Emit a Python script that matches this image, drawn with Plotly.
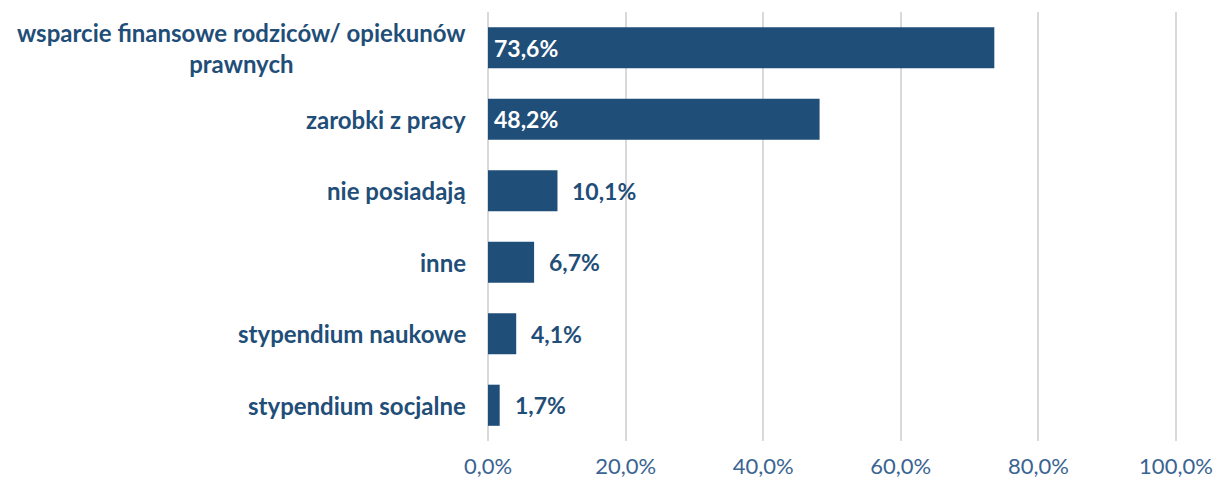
import plotly.graph_objects as go

categories = [
    "wsparcie finansowe rodziców/ opiekunów<br>prawnych",
    "zarobki z pracy",
    "nie posiadają",
    "inne",
    "stypendium naukowe",
    "stypendium socjalne",
]
values = [73.6, 48.2, 10.1, 6.7, 4.1, 1.7]
tick_vals = [0, 20, 40, 60, 80, 100]
tick_text = [f"{t:.1f}%".replace(".", ",") for t in tick_vals]

BAR = "#1F4E79"
TICK = "#3A6491"
FONT = "Lato"

fig = go.Figure()
fig.add_trace(go.Bar(
    x=values, y=categories, orientation="h",
    marker=dict(color=BAR, line=dict(width=0)),
    hoverinfo="skip",
))

annotations = []
for c, v in zip(categories, values):
    annotations.append(dict(
        x=0, y=c, xref="x", yref="y", text=f"<b>{c}</b>", showarrow=False,
        xanchor="right", align="center", xshift=-20,
        font=dict(family=FONT, size=24, color=BAR),
    ))
    label = f"{v:.1f}%".replace(".", ",")
    if v > 30:
        annotations.append(dict(
            x=0, y=c, xref="x", yref="y", text=f"<b>{label}</b>", showarrow=False,
            xanchor="left", xshift=4, font=dict(family=FONT, size=23, color="white"),
        ))
    else:
        annotations.append(dict(
            x=v, y=c, xref="x", yref="y", text=f"<b>{label}</b>", showarrow=False,
            xanchor="left", xshift=13, font=dict(family=FONT, size=23, color=BAR),
        ))

fig.update_layout(
    width=1214, height=477,
    margin=dict(l=480, r=44, t=4, b=44),
    plot_bgcolor="white", paper_bgcolor="white",
    bargap=0.425,
    showlegend=False,
    annotations=annotations,
    xaxis=dict(
        range=[0, 100.3], tickmode="array", tickvals=tick_vals, ticktext=tick_text,
        showgrid=True, gridcolor="#D9D9D9", gridwidth=2,
        zeroline=True, zerolinecolor="#D9D9D9", zerolinewidth=2,
        showline=False, ticks="",
        tickfont=dict(family=FONT, size=22, color=TICK),
        ticklabelstandoff=10,
    ),
    yaxis=dict(
        categoryorder="array", categoryarray=categories, autorange="reversed",
        showticklabels=False, showgrid=False, zeroline=False, showline=False, ticks="",
    ),
)

fig.write_html("out.html")
